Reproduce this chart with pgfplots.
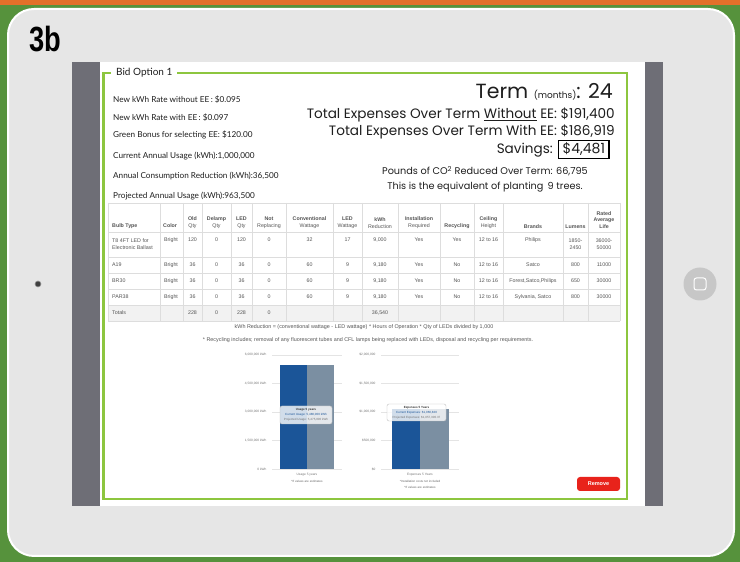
\documentclass[border=0pt]{standalone}
\usepackage{pgfplots}
\pgfplotsset{compat=1.18}
\usepackage{fontspec}
\setmainfont{Lato}
\newfontfamily\pop{Poppins}
\newfontfamily\tab{Liberation Sans}
\definecolor{bgreen}{HTML}{56923C}
\definecolor{orng}{HTML}{E2702A}
\definecolor{ipad}{HTML}{E6E6E6}
\definecolor{scr}{HTML}{6E6E76}
\definecolor{lime}{HTML}{8DC63F}
\definecolor{barblue}{HTML}{1B5598}
\definecolor{bargrey}{HTML}{7B8FA2}
\definecolor{gridc}{HTML}{E4E4E4}
\definecolor{tickc}{HTML}{777777}
\definecolor{txt}{HTML}{1E1E1E}
\definecolor{tbl}{HTML}{555555}
\definecolor{tline}{HTML}{DDDDDD}
\definecolor{btnred}{HTML}{E8231B}
\begin{document}
\begin{tikzpicture}
\fill[bgreen] (0,0) rectangle (740pt,562pt);
\begin{scope}[x=1pt,y=1pt,shift={(0,562pt)},yscale=-1]
\fill[orng] (0,0) rectangle (740,5);
\draw[white,line width=2pt,fill=ipad,rounded corners=26pt] (8,9) rectangle (734,556);
\fill[scr] (72,62) rectangle (663,506);
\fill[white] (100,62) rectangle (645,506);
\node[anchor=west,inner sep=0,font=\tab\bfseries\fontsize{35}{35}\selectfont] at (29,39) {\scalebox{0.78}[1]{3b}};
\fill[black!75] (38,284) circle (3);
\draw[black!40,line width=0.6pt] (38,284) circle (3);
\fill[black!22] (700,284) circle (16.5);
\draw[white,line width=1pt,rounded corners=2.5pt] (694,278) rectangle (706,290);
% frame
\draw[lime,line width=2.6pt] (103.5,73) rectangle (627,499);
\node[fill=white,anchor=west,inner xsep=5pt,inner ysep=3pt,text=txt,font=\fontsize{10}{11}\selectfont] at (111,73) {Bid Option 1};
% left column
\begin{scope}[every node/.style={anchor=west,inner sep=0,text=txt,font=\fontsize{8.2}{9}\selectfont}]
\node at (113,100) {New kWh Rate without EE\,: \$0.095};
\node at (113,118) {New kWh Rate with EE\,: \$0.097};
\node at (113,135) {Green Bonus for selecting EE: \$120.00};
\node at (113,156) {Current Annual Usage (kWh):1,000,000};
\node at (113,176) {Annual Consumption Reduction (kWh):36,500};
\node at (113,196) {Projected Annual Usage (kWh):963,500};
\end{scope}
% right column
\begin{scope}[every node/.style={inner sep=0,text=txt}]
\node[anchor=base east] at (613,99) {\pop\fontsize{20.5}{21}\selectfont Term \fontsize{9}{9}\selectfont(months)\fontsize{20.5}{21}\selectfont: 24};
\node[anchor=base east] at (615,119) {\pop\fontsize{13.6}{14}\selectfont Total Expenses Over Term \underline{Without} EE: \$191,400};
\node[anchor=base east] at (615,136) {\pop\fontsize{13.6}{14}\selectfont Total Expenses Over Term With EE: \$186,919};
\node[anchor=base east] at (553,154) {\pop\fontsize{13.6}{14}\selectfont Savings:};
\node[anchor=base west,draw=black,line width=1.2pt,inner xsep=4pt,inner ysep=2.5pt] at (558,154) {\pop\fontsize{14}{14}\selectfont \$4,481};
\node[anchor=base] at (485,175) {\pop\fontsize{9.7}{10}\selectfont Pounds of CO\textsuperscript{2} Reduced Over Term: 66,795};
\node[anchor=base] at (485,190) {\pop\fontsize{9.7}{10}\selectfont This is the equivalent of planting\, 9 trees.};
\end{scope}
% table
\fill[black!5] (108,305) rectangle (620,321);
\foreach \yy in {203,232,257,273,289,305,321} \draw[tline,line width=0.5pt] (108,\yy) -- (620,\yy);
\foreach \xx in {108,160,183,202,231,252,286,333,362,398,440,474,503,563,588,620} \draw[tline,line width=0.5pt] (\xx,203) -- (\xx,321);
\begin{scope}[every node/.style={inner sep=0,text=tbl,font=\tab\fontsize{5.3}{6.8}\selectfont,align=center}]
\node[anchor=west] at (112,226) {\bfseries Bulb Type};
\node[anchor=west] at (163,226) {\bfseries Color};
\foreach \x/\t in {192.5/{Old\\Qty},216.5/{Delamp\\Qty},241.5/{LED\\Qty},269/{Not\\Replacing},309.5/{Conventional\\Wattage},347.5/{LED\\Wattage},380/{kWh\\Reduction},419/{Installation\\Required},488.5/{Ceiling\\Height}}
  \node[anchor=south] at (\x,229) {\bfseries\t};
\node[anchor=south] at (457,229) {\bfseries Recycling};
\node[anchor=south] at (533,229) {\bfseries Brands};
\node[anchor=south] at (575.5,229) {\bfseries Lumens};
\node[anchor=south] at (604,229) {\bfseries Rated\\\bfseries Average\\\bfseries Life};
% row 1
\node[anchor=west,align=left] at (112,244.5) {T8 4FT LED for\\Electronic Ballast};
\foreach \x/\t in {171/Bright,192.5/120,216.5/0,241.5/120,269/0,309.5/32,347.5/17,380/{9,000},419/Yes,457/Yes,488.5/{12 to 16},533/Philips}
  \node at (\x,240) {\t};
\node at (575.5,244.5) {1850-\\2450};
\node at (604,244.5) {36000-\\50000};
% rows 2-4
\foreach \yy/\b/\br/\lu/\li/\rc in {265/A19/Satco/800/11000/No,281/BR30/{Forest,Satco,Philips}/650/30000/No,297/PAR38/{Sylvania, Satco}/800/30000/No}{
  \node[anchor=west] at (112,\yy) {\b};
  \foreach \x/\t in {171/Bright,192.5/36,216.5/0,241.5/36,269/0,309.5/60,347.5/9,380/{9,180},419/Yes,488.5/{12 to 16}}
    \node at (\x,\yy) {\t};
  \node at (457,\yy) {\rc};
  \node at (533,\yy) {\br};
  \node at (575.5,\yy) {\lu};
  \node at (604,\yy) {\li};
}
\node[anchor=west] at (112,313) {Totals};
\foreach \x/\t in {192.5/228,216.5/0,241.5/228,269/0,380/{36,540}}
  \node at (\x,313) {\t};
\node[font=\tab\fontsize{5.4}{6}\selectfont] at (364,327.5) {kWh Reduction = (conventional wattage - LED wattage) * Hours of Operation * Qty of LEDs divided by 1,000};
\node[font=\tab\fontsize{5.4}{6}\selectfont] at (368,340.5) {* Recycling includes; removal of any fluorescent tubes and CFL lamps being replaced with LEDs, disposal and recycling per requirements.};
\end{scope}
% notes under charts
\begin{scope}[every node/.style={inner sep=0,text=black!60,font=\tab\fontsize{3}{3.6}\selectfont}]
\node at (307,481) {*If values are estimates};
\node at (420,481) {*Installation costs not included};
\node at (420,487) {*If values are estimates};
\end{scope}
% remove button
\fill[btnred,rounded corners=3pt] (577,477) rectangle (620,491);
\node[text=white,font=\tab\bfseries\fontsize{5.5}{6}\selectfont] at (598.5,484) {Remove};
\end{scope}
% charts
\pgfplotsset{barax/.style={scale only axis,anchor=south west,height=114pt,ybar=0pt,xmin=-1,xmax=1,ymin=0,
  ymajorgrids,grid style={gridc,line width=0.5pt},axis line style={draw=none},major tick length=0pt,
  tick label style={font=\tab\fontsize{3.2}{4}\selectfont,text=tickc},scaled y ticks=false,clip=false,
  yticklabel style={xshift=-2pt},xticklabel style={yshift=-1pt},xtick={0}}}
\begin{axis}[barax,at={(272pt,93pt)},width=70pt,bar width=27pt,ymax=6000000,
  ytick={0,1500000,3000000,4500000,6000000},
  yticklabels={0 kWh,{1,500,000 kWh},{3,000,000 kWh},{4,500,000 kWh},{6,000,000 kWh}},
  xticklabels={Usage 5 years}]
\addplot[fill=barblue,draw=none] coordinates {(0,5480000)};
\addplot[fill=bargrey,draw=none] coordinates {(0,5475000)};
\end{axis}
\begin{axis}[barax,at={(381pt,93pt)},width=78pt,bar width=28.5pt,ymax=2000000,
  ytick={0,500000,1000000,1500000,2000000},
  yticklabels={\$0,{\$500,000},{\$1,000,000},{\$1,500,000},{\$2,000,000}},
  xticklabels={Expenses 5 Years}]
\addplot[fill=barblue,draw=none] coordinates {(0,1060000)};
\addplot[fill=bargrey,draw=none] coordinates {(0,1057000)};
\end{axis}
% tooltips
\begin{scope}[x=1pt,y=1pt,shift={(0,562pt)},yscale=-1]
\draw[black!25,fill=white,fill opacity=0.8,rounded corners=2pt,line width=0.4pt] (280,406) rectangle (332,424);
\draw[black!25,fill=white,fill opacity=0.8,rounded corners=2pt,line width=0.4pt] (387,404) rectangle (446,421);
\begin{scope}[every node/.style={inner sep=0,font=\tab\fontsize{3}{3.6}\selectfont}]
\node[text=black!80] at (306,410) {\bfseries Usage 5 years};
\node[text=barblue] at (306,415) {Current Usage: 5,480,000 kWh};
\node[text=black!55] at (306,420) {Projected Usage: 5,475,000 kWh};
\node[text=black!80] at (416.5,408) {\bfseries Expenses 5 Years};
\node[text=barblue] at (416.5,413) {Current Expenses: \$1,060,820};
\node[text=black!55] at (416.5,418) {Projected Expenses: \$1,057,300.37};
\end{scope}
\end{scope}
\end{tikzpicture}
\end{document}
